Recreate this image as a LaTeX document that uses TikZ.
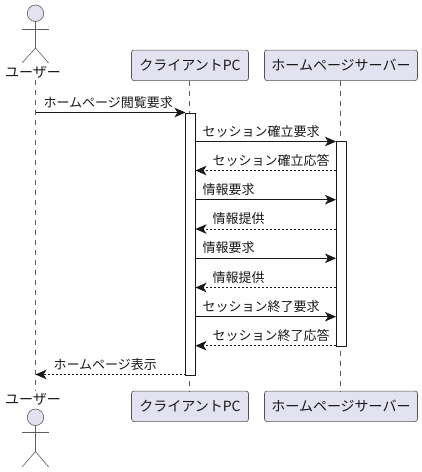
\documentclass[tikz,border=0pt]{standalone}
\usepackage{fontspec}
\setmainfont{Noto Sans CJK JP}
\usetikzlibrary{arrows.meta}
\definecolor{boxfill}{HTML}{E2E2F0}
\definecolor{ink}{HTML}{181818}
\tikzset{
  x=1pt,y=-1pt,
  part/.style={draw=ink!75,line width=0.6pt,fill=boxfill,rounded corners=2.5pt,minimum height=30.5pt,inner sep=0pt,font=\fontsize{14pt}{16pt}\selectfont,text=ink,anchor=center},
  life/.style={draw=ink!70,line width=0.5pt,dash pattern=on 5pt off 5pt},
  bar/.style={draw=ink,line width=0.7pt,fill=white,minimum width=10pt,inner sep=0pt,anchor=north},
  stick/.style={draw=ink!70,line width=0.6pt},
  head/.style={circle,draw=ink!70,line width=0.6pt,fill=boxfill,minimum size=16.5pt,inner sep=0pt},
  sync/.style={draw=ink,line width=0.7pt,-{Stealth[length=11pt,width=9.5pt,inset=3pt]}},
  rep/.style={draw=ink,line width=0.7pt,dash pattern=on 2pt off 2pt,-{Stealth[length=11pt,width=9.5pt,inset=3pt]}},
  msg/.style={font=\fontsize{13pt}{15pt}\selectfont,text=ink,inner sep=0pt,anchor=base west},
  alab/.style={font=\fontsize{14pt}{16pt}\selectfont,text=ink,inner sep=0pt,anchor=center}
}
\begin{document}
\begin{tikzpicture}
\useasboundingbox (0,0) rectangle (422,472);
% participants
\node[part,minimum width=117pt] (ct) at (190,65.3) {クライアントPC};
\node[part,minimum width=153pt] (st) at (341,65.3) {ホームページサーバー};
\node[part,minimum width=117pt] (cb) at (190,406.3) {クライアントPC};
\node[part,minimum width=153pt] (sb) at (341,406.3) {ホームページサーバー};
\node[alab] (ut) at (33,72.5) {ユーザー};
\node[alab] (ub) at (33,399.8) {ユーザー};
% lifelines
\coordinate (lt) at (35.5,80);
\coordinate (lb) at (35.5,391);
\coordinate (ctl) at (189.5,80.6);
\coordinate (cbl) at (189.5,391.3);
\coordinate (stl) at (340.5,80.6);
\coordinate (sbl) at (340.5,391.3);
\draw[life] (lt) -- (lb);
\draw[life] (ctl) -- (cbl);
\draw[life] (stl) -- (sbl);
% actors
\node[head] (h1) at (35.5,13.3) {};
\coordinate (b1) at (35.5,48);
\coordinate (al1) at (22,29);
\coordinate (ar1) at (48.7,29);
\coordinate (fl1) at (22,63);
\coordinate (fr1) at (48.7,63);
\draw[stick] (h1.south) -- (b1);
\draw[stick] (al1) -- (ar1);
\draw[stick] (fl1) -- (b1) -- (fr1);
\node[head] (h2) at (35.5,417.3) {};
\coordinate (b2) at (35.5,451.5);
\coordinate (al2) at (22,432.3);
\coordinate (ar2) at (48.7,432.3);
\coordinate (fl2) at (22,467);
\coordinate (fr2) at (48.7,467);
\draw[stick] (h2.south) -- (b2);
\draw[stick] (al2) -- (ar2);
\draw[stick] (fl2) -- (b2) -- (fr2);
% activations
\node[bar,minimum height=262pt] (ac) at (190.5,112.5) {};
\node[bar,minimum height=204.5pt] (as) at (341,141.2) {};
% message ends
\foreach \n/\y in {1/141.5,2/170.5,3/199.7,4/229,5/258.3,6/287.5,7/316.7,8/345.7}{
  \coordinate (cm\n) at (195.5,\y);
  \coordinate (sm\n) at (336,\y);
}
\coordinate (u0) at (35.5,112.5);
\coordinate (c0) at (185.5,112.5);
\coordinate (u9) at (35.5,374.5);
\coordinate (c9) at (185.5,374.5);
\draw[sync] (u0) -- (c0);
\draw[sync] (cm1) -- (sm1);
\draw[rep] (sm2) -- (cm2);
\draw[sync] (cm3) -- (sm3);
\draw[rep] (sm4) -- (cm4);
\draw[sync] (cm5) -- (sm5);
\draw[rep] (sm6) -- (cm6);
\draw[sync] (cm7) -- (sm7);
\draw[rep] (sm8) -- (cm8);
\draw[rep] (c9) -- (u9);
% labels
\node[msg] (t0) at (43.3,107.2) {ホームページ閲覧要求};
\node[msg] (t1) at (202.3,136.2) {セッション確立要求};
\node[msg] (t2) at (212.3,165.2) {セッション確立応答};
\node[msg] (t3) at (202.3,194.2) {情報要求};
\node[msg] (t4) at (212.3,223.7) {情報提供};
\node[msg] (t5) at (202.3,252.7) {情報要求};
\node[msg] (t6) at (212.3,282.2) {情報提供};
\node[msg] (t7) at (202.3,311.2) {セッション終了要求};
\node[msg] (t8) at (212.3,340.2) {セッション終了応答};
\node[msg] (t9) at (53.3,369.2) {ホームページ表示};
\end{tikzpicture}
\end{document}
